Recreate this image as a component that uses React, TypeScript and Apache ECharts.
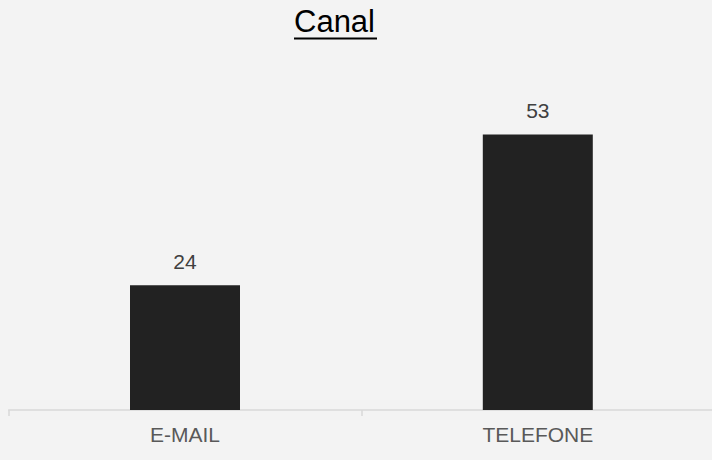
import React, { useEffect, useRef } from "react";
import * as echarts from "echarts";

const categories = ["E-MAIL", "TELEFONE"];
const values = [24, 53];
const titleText = "Canal";

export default function App() {
  const ref = useRef<HTMLDivElement>(null);
  useEffect(() => {
    if (!ref.current) return;
    const chart = echarts.init(ref.current, null, { renderer: "svg" });
    chart.setOption({
      animation: false,
      backgroundColor: "#f3f3f3",
      graphic: [
        {
          type: "text",
          left: 294,
          top: 6,
          style: {
            text: titleText,
            fontFamily: "Liberation Sans, Arial, sans-serif",
            fontSize: 31,
            fill: "#000000",
          },
        },
        {
          type: "line",
          shape: { x1: 294, y1: 38.5, x2: 377, y2: 38.5 },
          style: { stroke: "#000000", lineWidth: 2 },
        },
      ],
      grid: { left: 8.6, width: 705.6, top: 98, height: 312, containLabel: false },
      xAxis: {
        type: "category",
        data: categories,
        axisLine: { show: true, lineStyle: { color: "#d9d9d9", width: 1.5 } },
        axisTick: { show: true, length: 6, lineStyle: { color: "#d9d9d9", width: 1.5 } },
        axisLabel: {
          color: "#595959",
          fontSize: 21,
          fontFamily: "Liberation Sans, Arial, sans-serif",
          margin: 14,
        },
      },
      yAxis: {
        type: "value",
        min: 0,
        max: 60,
        show: false,
        splitLine: { show: false },
      },
      series: [
        {
          type: "bar",
          data: values,
          barWidth: 110,
          itemStyle: { color: "#222222" },
          label: {
            show: true,
            position: "top",
            distance: 13,
            color: "#404040",
            fontSize: 21,
            fontFamily: "Liberation Sans, Arial, sans-serif",
          },
        },
      ],
    });
    return () => chart.dispose();
  }, []);
  return (
    <div
      style={{
        position: "fixed",
        left: 0,
        top: 0,
        width: 712,
        height: 460,
        overflow: "hidden",
      }}
    >
      <div ref={ref} style={{ width: 724, height: 460 }} />
    </div>
  );
}
